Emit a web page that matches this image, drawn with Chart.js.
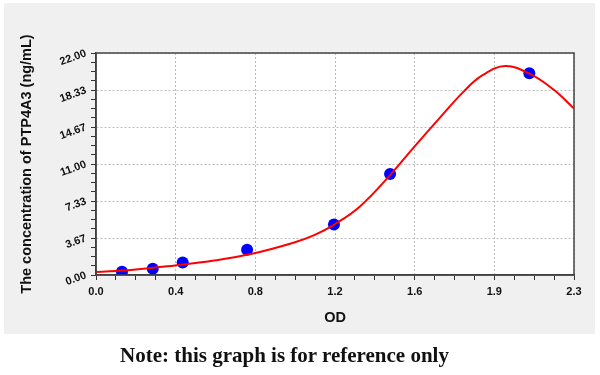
<!DOCTYPE html>
<html>
<head>
<meta charset="utf-8">
<script src="https://cdn.jsdelivr.net/npm/chart.js@4.4.1/dist/chart.umd.min.js"></script>
<style>
  html, body { margin: 0; padding: 0; background: #fff; }
  #wrap { position: relative; width: 600px; height: 375px; }
  #note {
    position: absolute; left: 120px; top: 343px; white-space: nowrap;
    font: bold 21px "Liberation Serif", "DejaVu Serif", serif; color: #111;
  }
</style>
</head>
<body>
<div id="wrap">
  <canvas id="chart" width="600" height="375"></canvas>
  <div id="note">Note: this graph is for reference only</div>
</div>
<script>
// standard points (OD, concentration)
const stdOD = [0.125, 0.273, 0.417, 0.727, 1.145, 1.415, 2.085];
const stdConc = [0.3125, 0.625, 1.25, 2.5, 5, 10, 20];

// fitted curve
const curveOD = [0, 0.18, 0.38, 0.56, 0.75, 0.95, 1.05, 1.15, 1.27, 1.415, 1.527, 1.655, 1.77, 1.86, 1.97, 2.09, 2.2, 2.3];
const curveConc = [0.30, 0.52, 0.95, 1.41, 2.1, 3.2, 3.95, 5.05, 6.8, 9.9, 12.6, 15.6, 18.2, 19.8, 20.7, 19.9, 18.4, 16.5];

const xTickLabels = ["0.0", "0.4", "0.8", "1.2", "1.6", "1.9", "2.3"];
const yTickLabels = ["0.00", "3.67", "7.33", "11.00", "14.67", "18.33", "22.00"];
const xMax = 2.3;
const yMax = 22;
const minorPerMajor = 4;

const tickFont = { family: "'Liberation Sans', Arial, sans-serif", size: 11, weight: "bold" };
const titleFont = { family: "'Liberation Sans', Arial, sans-serif", size: 14.5, weight: "bold" };

function buildTicks(max, nLabels) {
  const n = (nLabels - 1) * minorPerMajor;
  const out = [];
  for (let i = 0; i <= n; i++) out.push({ value: (max * i) / n });
  return out;
}

const isMajor = ctx => ctx.index % minorPerMajor === 0;

const panel = {
  id: "panel",
  beforeDraw(chart) {
    const { ctx, chartArea: a } = chart;
    ctx.save();
    ctx.fillStyle = "#f0f0f0";
    ctx.fillRect(4, 3, 591, 331);
    ctx.fillStyle = "#ffffff";
    ctx.fillRect(a.left, a.top, a.right - a.left, a.bottom - a.top);
    ctx.restore();
  },
  afterDraw(chart) {
    const { ctx, chartArea: a } = chart;
    ctx.save();
    ctx.strokeStyle = "#444";
    ctx.lineWidth = 1.5;
    ctx.strokeRect(a.left, a.top, a.right - a.left, a.bottom - a.top);
    ctx.restore();
  }
};

new Chart(document.getElementById("chart").getContext("2d"), {
  type: "scatter",
  data: {
    datasets: [
      {
        label: "curve",
        data: curveOD.map((x, i) => ({ x, y: curveConc[i] })),
        showLine: true,
        borderColor: "#ff0000",
        borderWidth: 2,
        pointRadius: 0,
        tension: 0.4
      },
      {
        label: "standards",
        data: stdOD.map((x, i) => ({ x, y: stdConc[i] })),
        backgroundColor: "#0000ff",
        borderColor: "#0000ff",
        pointRadius: 6,
        pointBorderWidth: 0
      }
    ]
  },
  options: {
    responsive: false,
    animation: false,
    layout: { padding: { left: 0, right: 26, top: 53, bottom: 40 } },
    scales: {
      x: {
        type: "linear",
        min: 0,
        max: xMax,
        afterBuildTicks: s => { s.ticks = buildTicks(xMax, xTickLabels.length); },
        afterFit: s => { s.height = 60; },
        ticks: {
          autoSkip: false,
          maxRotation: 0,
          padding: 5,
          color: "#111",
          font: tickFont,
          callback: (v, i) => (i % minorPerMajor === 0 ? xTickLabels[i / minorPerMajor] : "")
        },
        grid: {
          color: ctx => (isMajor(ctx) ? "#bdbdbd" : "transparent"),
          tickColor: "#333",
          tickLength: 5,
          lineWidth: 1
        },
        border: { color: "#333", width: 1.5, dash: [2, 2] },
        title: { display: true, text: "OD", color: "#111", font: titleFont, padding: { top: 0, bottom: 8 } }
      },
      y: {
        type: "linear",
        min: 0,
        max: yMax,
        afterBuildTicks: s => { s.ticks = buildTicks(yMax, yTickLabels.length); },
        afterFit: s => { s.width = 96; },
        ticks: {
          autoSkip: false,
          minRotation: 20,
          maxRotation: 20,
          padding: 5,
          color: "#111",
          font: tickFont,
          callback: (v, i) => (i % minorPerMajor === 0 ? yTickLabels[i / minorPerMajor] : "")
        },
        grid: {
          color: ctx => (isMajor(ctx) ? "#bdbdbd" : "transparent"),
          tickColor: "#333",
          tickLength: 5,
          lineWidth: 1
        },
        border: { color: "#333", width: 1.5, dash: [2, 2] },
        title: {
          display: true,
          text: "The concentration of PTP4A3 (ng/mL)",
          color: "#111",
          font: titleFont,
          padding: { top: 18, bottom: 0 }
        }
      }
    },
    plugins: {
      legend: { display: false },
      tooltip: { enabled: false }
    }
  },
  plugins: [panel]
});
</script>
</body>
</html>
